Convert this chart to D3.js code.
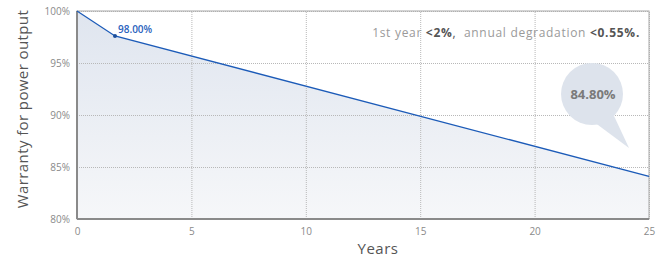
<!DOCTYPE html>
<html>
<head>
<meta charset="utf-8">
<script src="https://cdn.jsdelivr.net/npm/d3@7"></script>
<style>
  body { margin: 0; background: #fff; }
  svg { display: block; font-family: "Open Sans", "Lato", sans-serif; }
</style>
</head>
<body>
<svg id="chart" width="662" height="257"></svg>
<script>
// data
const years = [0, 1.66, 25];
const output = [100, 97.6, 84.1];
const xTicks = [0, 5, 10, 15, 20, 25];
const yTicks = [80, 85, 90, 95, 100];
const pointLabel = "98.00%";
const endLabel = "84.80%";

const svg = d3.select("#chart");
const m = { left: 77, right: 649, top: 11, bottom: 219 };

const x = d3.scaleLinear().domain([0, 25]).range([m.left, m.right]);
const y = d3.scaleLinear().domain([80, 100]).range([m.bottom, m.top]);

const data = years.map((d, i) => ({ year: d, value: output[i] }));

// gradient for the area
const grad = svg.append("defs").append("linearGradient")
    .attr("id", "fade").attr("x1", 0).attr("y1", 0).attr("x2", 0).attr("y2", 1);
grad.append("stop").attr("offset", "0%").attr("stop-color", "#dfe5ef");
grad.append("stop").attr("offset", "100%").attr("stop-color", "#f6f7f9");

svg.append("path")
    .datum(data)
    .attr("fill", "url(#fade)")
    .attr("d", d3.area().x(d => x(d.year)).y0(y(80)).y1(d => y(d.value)));

// grid
svg.append("g")
    .attr("transform", `translate(0,${m.bottom})`)
    .call(d3.axisBottom(x).tickValues(xTicks).tickSize(-(m.bottom - m.top)).tickFormat(""))
    .call(g => g.select(".domain").remove())
    .call(g => g.selectAll("line").attr("stroke", "#b8b8b8").attr("stroke-dasharray", "1,1"));

svg.append("g")
    .attr("transform", `translate(${m.left},0)`)
    .call(d3.axisLeft(y).tickValues(yTicks).tickSize(-(m.right - m.left)).tickFormat(""))
    .call(g => g.select(".domain").remove())
    .call(g => g.selectAll("line").attr("stroke", "#b8b8b8").attr("stroke-dasharray", "1,1"));

// frame
svg.append("rect")
    .attr("x", m.left).attr("y", m.top)
    .attr("width", m.right - m.left).attr("height", m.bottom - m.top)
    .attr("fill", "none").attr("stroke", "#a8a8a8").attr("stroke-width", 1);

svg.append("line")
    .attr("x1", m.left).attr("x2", m.left).attr("y1", m.top).attr("y2", m.bottom)
    .attr("stroke", "#8a8a8a").attr("stroke-width", 2);
svg.append("line")
    .attr("x1", m.left).attr("x2", m.right).attr("y1", m.bottom).attr("y2", m.bottom)
    .attr("stroke", "#8a8a8a").attr("stroke-width", 2);

// tick labels
svg.append("g")
    .attr("transform", `translate(0,${m.bottom})`)
    .call(d3.axisBottom(x).tickValues(xTicks).tickSize(0).tickPadding(9))
    .call(g => g.select(".domain").remove())
    .call(g => g.selectAll("text").attr("fill", "#8a8a8a").attr("font-size", 10).attr("font-family", "Open Sans"));

svg.append("g")
    .attr("transform", `translate(${m.left},0)`)
    .call(d3.axisLeft(y).tickValues(yTicks).tickSize(0).tickPadding(7).tickFormat(d => d + "%"))
    .call(g => g.select(".domain").remove())
    .call(g => g.selectAll("text").attr("fill", "#8a8a8a").attr("font-size", 10).attr("font-family", "Open Sans"));

// line
svg.append("path")
    .datum(data)
    .attr("fill", "none")
    .attr("stroke", "#1c5bb8")
    .attr("stroke-width", 1.3)
    .attr("d", d3.line().x(d => x(d.year)).y(d => y(d.value)));

svg.append("circle")
    .attr("cx", x(years[1])).attr("cy", y(output[1])).attr("r", 2)
    .attr("fill", "#1c4f9c");

svg.append("text")
    .attr("x", x(years[1]) + 3).attr("y", y(output[1]) - 3)
    .attr("fill", "#2a62bd").attr("font-size", 10).attr("font-weight", 600)
    .text(pointLabel);

// note text
const note = svg.append("text")
    .attr("x", 640).attr("y", 37)
    .attr("text-anchor", "end").attr("font-size", 12).attr("fill", "#9a9a9a")
    .attr("letter-spacing", 0.7)
    .style("white-space", "pre");
note.append("tspan").text("1st year ");
note.append("tspan").attr("fill", "#555").attr("font-weight", 700).text("<2%");
note.append("tspan").attr("fill", "#555").text(",");
note.append("tspan").text("  annual degradation ");
note.append("tspan").attr("fill", "#555").attr("font-weight", 700).text("<0.55%.");

// bubble
const bx = 592, by = 94, br = 31;
svg.append("path")
    .attr("d", `M${bx + 2},${by + 28} L629,148 L${bx + 22},${by + 22} Z`)
    .attr("fill", "#dde3ec");
svg.append("circle")
    .attr("cx", bx).attr("cy", by).attr("r", br)
    .attr("fill", "#dde3ec");
svg.append("text")
    .attr("x", bx + 1).attr("y", by + 5)
    .attr("text-anchor", "middle").attr("font-size", 13).attr("font-weight", 700)
    .attr("fill", "#7a7a7a")
    .text(endLabel);

// axis titles
svg.append("text")
    .attr("x", 378).attr("y", 254)
    .attr("text-anchor", "middle").attr("font-size", 15).attr("font-weight", 500)
    .attr("fill", "#555").attr("letter-spacing", 0.5)
    .text("Years");

svg.append("text")
    .attr("transform", `translate(28,109) rotate(-90)`)
    .attr("text-anchor", "middle").attr("font-size", 15).attr("fill", "#555")
    .attr("letter-spacing", 0.4)
    .text("Warranty for power output");
</script>
</body>
</html>
